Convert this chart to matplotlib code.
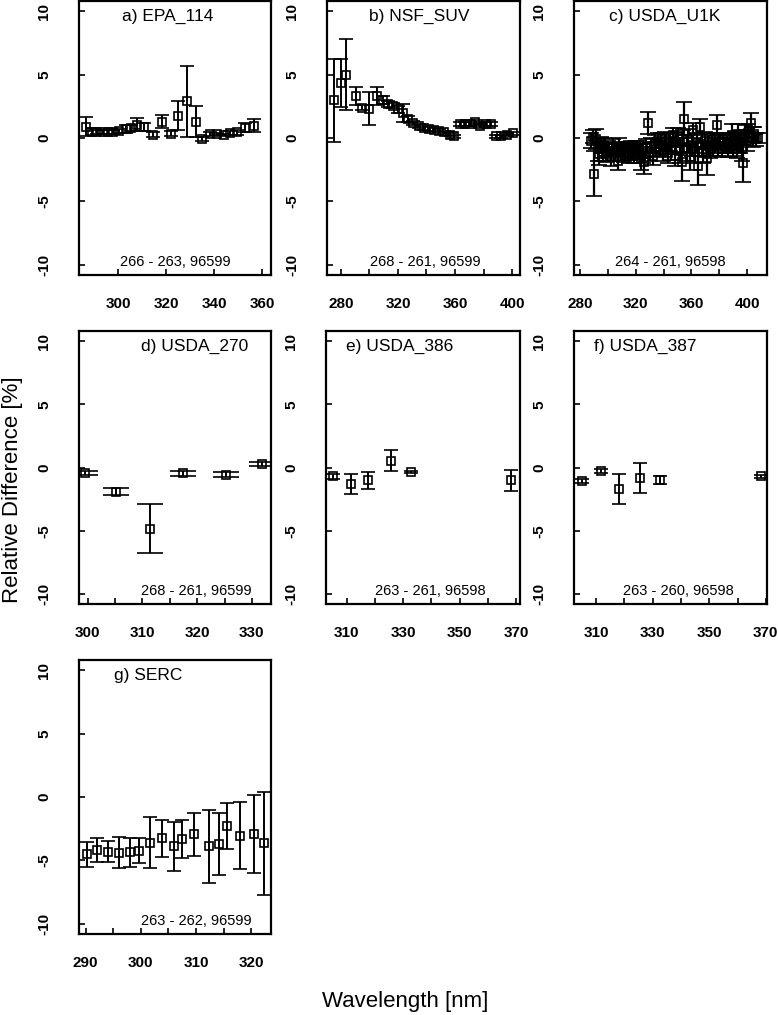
import matplotlib.pyplot as plt
import numpy as np

plt.rcParams['font.family'] = ['Liberation Sans', 'DejaVu Sans']
plt.rcParams['axes.unicode_minus'] = False

# a) EPA_114
a_wl = [286.6, 289.0, 291.1, 293.6, 295.9, 298.0, 300.4, 303.4, 305.5, 307.8, 311.0, 314.7, 318.3,
        322.0, 325.0, 328.7, 332.3, 335.0, 338.4, 341.2, 343.9, 346.7, 349.4, 352.8, 356.5]
a_diff = [0.87, 0.5, 0.47, 0.45, 0.5, 0.5, 0.55, 0.7, 0.8, 1.05, 0.85, 0.25, 1.3,
          0.35, 1.75, 2.9, 1.3, -0.1, 0.3, 0.3, 0.25, 0.4, 0.47, 0.8, 0.97]
a_err = [0.75, 0.25, 0.15, 0.15, 0.15, 0.15, 0.15, 0.3, 0.25, 0.5, 0.3, 0.2, 0.55,
         0.2, 1.15, 2.8, 1.2, 0.15, 0.15, 0.1, 0.1, 0.15, 0.2, 0.35, 0.5]

# b) NSF_SUV
b_wl = [275.3, 280.0, 283.5, 290.5, 294.5, 299.9, 305.0, 309.7, 313.2, 316.7, 320.2, 323.7, 327.2,
        330.7, 334.7, 338.2, 342.0, 345.5, 349.0, 352.5, 356.5, 359.5, 363.5, 367.0, 370.5, 374.0,
        377.5, 381.5, 385.5, 388.8, 392.3, 396.7, 400.9]
b_diff = [2.97, 4.35, 5.0, 3.3, 2.37, 2.3, 3.3, 3.0, 2.7, 2.55, 2.25, 1.97, 1.5,
          1.18, 0.92, 0.79, 0.71, 0.66, 0.58, 0.45, 0.26, 0.13, 1.13, 1.13, 1.1, 1.24,
          0.97, 1.13, 1.13, 0.13, 0.13, 0.26, 0.39]
b_err = [3.25, 1.9, 2.8, 0.7, 0.2, 1.3, 0.7, 0.3, 0.25, 0.2, 0.3, 0.7, 0.2,
         0.15, 0.15, 0.12, 0.12, 0.12, 0.12, 0.12, 0.12, 0.12, 0.15, 0.15, 0.15, 0.15,
         0.15, 0.15, 0.15, 0.12, 0.12, 0.12, 0.12]

# c) USDA_U1K
c_wl = [288.0, 289.2, 290.3, 291.5, 292.7, 293.9, 295.1, 296.3, 297.5, 298.7, 299.9, 301.1,
        302.3, 303.5, 304.7, 305.9, 307.1, 308.3, 309.5, 310.7, 311.9, 313.1, 314.3, 315.5,
        316.7, 317.9, 319.1, 320.3, 321.5, 322.7, 323.9, 325.1, 326.3, 327.5, 328.9, 330.1,
        331.3, 332.5, 333.7, 334.9, 336.1, 337.3, 338.5, 339.7, 340.9, 342.1, 343.3, 344.5,
        345.7, 346.9, 348.1, 349.3, 350.5, 351.7, 352.9, 354.1, 355.0, 356.5, 357.7, 358.9,
        360.1, 361.3, 362.5, 363.7, 364.9, 366.2, 367.3, 368.5, 369.7, 370.9, 372.1, 373.3,
        374.5, 375.7, 376.9, 378.1, 379.4, 380.5, 381.7, 382.9, 384.1, 385.3, 386.5, 387.7,
        388.9, 390.1, 391.3, 392.5, 393.7, 394.9, 396.1, 397.3, 398.5, 399.7, 400.9, 402.8,
        404.0, 405.2, 406.4, 407.6]
c_diff = [-0.2, 0.1, -2.8, -0.1, -0.9, -1.3, -0.5, -1.1, -0.6, -1.2, -0.8, -1.0,
          -1.5, -0.7, -1.1, -0.9, -1.8, -0.6, -1.2, -0.9, -1.3, -0.8, -1.1, -1.4,
          -0.7, -1.0, -1.3, -0.8, -1.1, -0.9, -1.6, -1.2, -1.9, -0.8, 1.2, -1.1,
          -0.6, -1.4, -0.5, -0.9, -0.2, -0.7, -0.3, -1.0, -0.1, -0.5, -1.2, -0.3,
          -0.8, 0.2, -1.4, -0.4, 0.1, -1.0, -1.9, -0.3, 1.5, -0.8, -0.2, -1.5,
          -0.6, 0.6, -1.1, -0.4, -2.2, 0.9, -0.5, -1.2, -0.2, -1.6, -0.6, -0.9,
          -0.2, -0.7, -0.4, 1.0, -0.6, -0.3, -0.9, -0.2, -0.6, -0.3, -0.8, -0.4,
          0.2, -0.6, -0.2, -0.7, 0.3, -0.4, -0.9, -2.0, 0.3, -0.2, 0.4, 1.2,
          0.1, 0.3, -0.1, 0.0]
c_err = [0.6, 0.5, 1.8, 0.8, 0.9, 0.8, 0.6, 0.7, 0.6, 0.7, 0.6, 0.6,
         0.7, 0.6, 0.6, 0.5, 0.7, 0.6, 0.6, 0.5, 0.6, 0.5, 0.6, 0.6,
         0.5, 0.6, 0.7, 0.6, 0.6, 0.7, 0.9, 0.8, 0.9, 0.7, 0.85, 0.7,
         0.6, 0.7, 0.7, 0.6, 0.6, 0.7, 0.7, 0.8, 0.6, 0.8, 0.8, 0.7,
         0.9, 0.6, 0.8, 0.9, 0.7, 1.0, 1.5, 0.9, 1.3, 1.0, 0.9, 1.0,
         0.8, 0.6, 0.9, 0.8, 1.5, 0.6, 0.9, 0.8, 0.7, 1.3, 0.8, 0.7,
         0.6, 0.7, 0.8, 0.8, 0.8, 0.6, 0.6, 0.5, 0.6, 0.7, 0.7, 0.8,
         0.9, 0.8, 0.7, 0.9, 0.8, 0.8, 0.9, 1.45, 0.7, 0.8, 0.7, 0.75,
         0.8, 0.6, 0.5, 0.4]

# d) USDA_270
d_wl = [299.5, 305.2, 311.3, 317.4, 325.3, 331.9]
d_diff = [-0.42, -1.9, -4.83, -0.45, -0.58, 0.29]
d_err = [0.15, 0.3, 1.97, 0.2, 0.2, 0.15]

# e) USDA_386
e_wl = [305.0, 311.6, 317.5, 325.5, 332.8, 368.2]
e_diff = [-0.7, -1.29, -1.02, 0.55, -0.34, -1.02]
e_err = [0.2, 0.8, 0.65, 0.85, 0.1, 0.8]

# f) USDA_387
f_wl = [305.2, 311.6, 318.0, 325.6, 332.6, 368.4]
f_diff = [-1.08, -0.26, -1.68, -0.84, -0.97, -0.68]
f_err = [0.15, 0.15, 1.2, 1.2, 0.3, 0.12]

# g) SERC
g_wl = [290.2, 292.1, 294.0, 296.0, 298.0, 299.6, 301.6, 303.9, 306.0, 307.5, 309.6, 312.4,
        314.1, 315.7, 317.9, 320.6, 322.4]
g_diff = [-4.51, -4.2, -4.3, -4.38, -4.36, -4.22, -3.59, -3.25, -3.9, -3.3, -2.93, -3.9,
          -3.72, -2.28, -3.04, -2.93, -3.64]
g_err = [1.0, 0.95, 0.85, 1.25, 1.15, 1.0, 2.0, 1.45, 1.95, 1.5, 1.7, 2.9,
         2.45, 1.8, 2.65, 3.05, 4.05]

W, H = 778, 1015
fig = plt.figure(figsize=(W / 100, H / 100), dpi=100)


def px_axes(left, top, right, bottom):
    return fig.add_axes([left / W, 1 - bottom / H, (right - left) / W, (bottom - top) / H])


def draw_panel(ax, wl, diff, err, xlim, labels, minor, title, title_x, note, note_x, cap, lw=1.4):
    ax.errorbar(wl, diff, yerr=err, fmt='s', mfc='none', mec='black', ms=5.5, mew=1.2,
                ecolor='black', elinewidth=lw, capsize=cap, capthick=lw)
    ax.set_xlim(xlim)
    ax.set_ylim(-10.8, 10.8)
    ax.set_xticks(labels)
    ax.set_xticks(minor, minor=True)
    ax.set_yticks([-10, -5, 0, 5, 10])
    ax.tick_params(direction='in', length=4, width=1.2, labelsize=11)
    ax.tick_params(axis='x', which='both', direction='in', length=4, width=1.2, pad=16)
    ax.tick_params(axis='y', pad=20)
    for lab in ax.get_xticklabels() + ax.get_yticklabels():
        lab.set_fontweight('bold')
    for lab in ax.get_yticklabels():
        lab.set_rotation(90)
        lab.set_va('center')
    for sp in ax.spines.values():
        sp.set_linewidth(1.6)
    ax.text(title_x, 9.6, title, transform=ax.get_yaxis_transform(), ha='center', va='center',
            fontsize=12.5)
    ax.text(note_x, -9.8, note, transform=ax.get_yaxis_transform(), ha='center', va='center',
            fontsize=10.5)


ax = px_axes(79, 1, 271, 275)
draw_panel(ax, a_wl, a_diff, a_err, (283.8, 363.6), [300, 320, 340, 360], [],
           'a) EPA_114', 0.46, '266 - 263, 96599', 0.5, 4.7)
ax = px_axes(327, 1, 520, 275)
draw_panel(ax, b_wl, b_diff, b_err, (270.2, 405.6), [280, 320, 360, 400], [300, 340, 380],
           'b) NSF_SUV', 0.48, '268 - 261, 96599', 0.51, 4.7)
ax = px_axes(574, 1, 767, 275)
draw_panel(ax, c_wl, c_diff, c_err, (275.7, 414.3), [280, 320, 360, 400], [300, 340, 380],
           'c) USDA_U1K', 0.47, '264 - 261, 96598', 0.5, 5.5, lw=1.6)

ax = px_axes(79, 331, 271, 604)
draw_panel(ax, d_wl, d_diff, d_err, (298.4, 333.5), [300, 310, 320, 330], [305, 315, 325],
           'd) USDA_270', 0.6, '268 - 261, 96599', 0.61, 9.5)
ax = px_axes(326, 331, 520, 604)
draw_panel(ax, e_wl, e_diff, e_err, (302.6, 371.4), [310, 330, 350, 370], [320, 340, 360],
           'e) USDA_386', 0.38, '263 - 261, 96598', 0.54, 5.2)
ax = px_axes(574, 331, 767, 604)
draw_panel(ax, f_wl, f_diff, f_err, (302.2, 370.4), [310, 330, 350, 370], [320, 340, 360],
           'f) USDA_387', 0.37, '263 - 260, 96598', 0.54, 4.7)

ax = px_axes(79, 660, 271, 934)
draw_panel(ax, g_wl, g_diff, g_err, (288.8, 323.6), [290, 300, 310, 320], [295, 305, 315],
           'g) SERC', 0.36, '263 - 262, 96599', 0.61, 5.3)

fig.text(13 / W, 1 - 490 / H, 'Relative Difference [%]', rotation=90, ha='center', va='center',
         fontsize=16)
fig.text(405 / W, 1 - 1002 / H, 'Wavelength [nm]', ha='center', va='center', fontsize=16)

fig.savefig('out.png', dpi=100)
